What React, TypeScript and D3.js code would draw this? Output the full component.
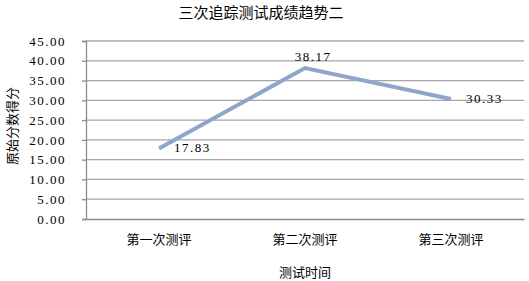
import React, { useEffect, useRef } from 'react';
import * as d3 from 'd3';

const categories = ['第一次测评', '第二次测评', '第三次测评'];
const scores = [17.83, 38.17, 30.33];
const yTicks = [0, 5, 10, 15, 20, 25, 30, 35, 40, 45];

const W = 529;
const H = 281;
const margin = { top: 41, right: 5, bottom: 62, left: 86 };
const cjk = '"Noto Sans CJK SC", sans-serif';
const num = '"Liberation Serif", serif';

const App = () => {
  const ref = useRef<SVGSVGElement>(null);

  useEffect(() => {
    const svg = d3.select(ref.current);
    svg.selectAll('*').remove();

    const width = W - margin.left - margin.right;
    const height = H - margin.top - margin.bottom;

    const x = d3.scaleBand().domain(categories).range([0, width]);
    const y = d3.scaleLinear().domain([0, 45]).range([height, 0]);

    const g = svg.append('g').attr('transform', `translate(${margin.left}, ${margin.top})`);

    // grid lines
    g.selectAll('line.grid')
      .data(yTicks.slice(1))
      .enter().append('line')
      .attr('x1', 0).attr('x2', width)
      .attr('y1', d => y(d)).attr('y2', d => y(d))
      .attr('stroke', '#a6a6a6')
      .attr('stroke-width', 1.3);

    // y axis
    const yAxis = d3.axisLeft(y).tickValues(yTicks).tickSize(4).tickFormat(d => d3.format('.2f')(d as number));
    const ya = g.append('g').call(yAxis);
    ya.select('.domain').attr('stroke', '#8c8c8c').attr('stroke-width', 1.3);
    ya.selectAll('.tick line').attr('stroke', '#8c8c8c').attr('stroke-width', 1.3);
    ya.selectAll('.tick text')
      .attr('x', -20)
      .attr('font-family', num)
      .attr('font-size', 13)
      .attr('letter-spacing', 1.5)
      .attr('fill', '#000');

    // x axis
    const xAxis = d3.axisBottom(x).tickSize(0).tickPadding(16);
    const xa = g.append('g').attr('transform', `translate(0, ${height})`).call(xAxis);
    xa.select('.domain').attr('stroke', '#8c8c8c').attr('stroke-width', 1.3);
    xa.selectAll('.tick text')
      .attr('font-family', cjk)
      .attr('font-size', 13)
      .attr('fill', '#000');

    // line
    const line = d3.line<number>()
      .x((_, i) => (x(categories[i]) as number) + x.bandwidth() / 2)
      .y(d => y(d));

    g.append('path')
      .datum(scores)
      .attr('d', line)
      .attr('fill', 'none')
      .attr('stroke', '#8ea5cc')
      .attr('stroke-width', 4)
      .attr('stroke-linejoin', 'miter');

    // data labels
    const labelPos = ['right', 'top', 'right'];
    g.selectAll('text.lbl')
      .data(scores)
      .enter().append('text')
      .attr('font-family', num)
      .attr('font-size', 13)
      .attr('letter-spacing', 1.5)
      .attr('x', (d, i) => (x(categories[i]) as number) + x.bandwidth() / 2 + (labelPos[i] === 'right' ? 15 : 8))
      .attr('y', (d, i) => y(d) + (labelPos[i] === 'right' ? 4 : -7))
      .attr('text-anchor', (d, i) => (labelPos[i] === 'right' ? 'start' : 'middle'))
      .text(d => d3.format('.2f')(d));

    // titles
    svg.append('text')
      .attr('x', 261).attr('y', 18)
      .attr('text-anchor', 'middle')
      .attr('font-family', cjk)
      .attr('font-size', 15)
      .text('三次追踪测试成绩趋势二');

    svg.append('text')
      .attr('x', margin.left + width / 2).attr('y', 277)
      .attr('text-anchor', 'middle')
      .attr('font-family', cjk)
      .attr('font-size', 13)
      .text('测试时间');

    svg.append('text')
      .attr('transform', `translate(17, ${margin.top + height / 2 - 4}) rotate(-90)`)
      .attr('text-anchor', 'middle')
      .attr('font-family', cjk)
      .attr('font-size', 13)
      .text('原始分数得分');
  }, []);

  return (
    <div style={{ position: 'absolute', left: 0, top: 0 }}>
      <svg ref={ref} width={W} height={H} style={{ display: 'block' }} />
    </div>
  );
};

export default App;
